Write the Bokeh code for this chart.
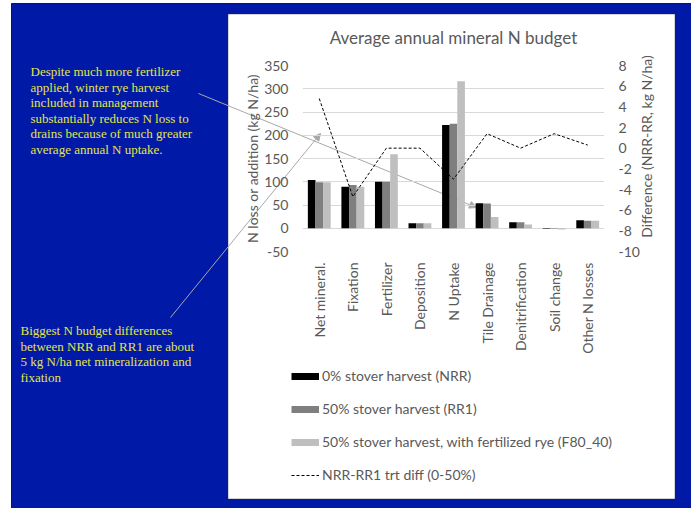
import math

from bokeh.core.properties import value
from bokeh.embed import file_html
from bokeh.models import (Arrow, ColumnDataSource, FactorRange, GridBox, Legend,
                          LegendItem, LinearAxis, NormalHead, PrintfTickFormatter,
                          Range1d, SingleIntervalTicker)
from bokeh.plotting import figure
from bokeh.resources import INLINE
from bokeh.transform import dodge

# ---- data -------------------------------------------------------------
categories = ["Net mineral.", "Fixation", "Fertilizer", "Deposition", "N Uptake",
              "Tile Drainage", "Denitrification", "Soil change", "Other N losses"]
nrr = [104, 89, 100, 11, 222, 54, 13, -1, 17]      # 0% stover harvest
rr1 = [99, 93, 100, 11, 225, 53, 13, -1, 16]       # 50% stover harvest
f80 = [99, 89, 159, 11, 316, 24, 8, -2.5, 16]      # 50% + fertilized rye
diff = [4.8, -4.7, 0.0, 0.0, -3.0, 1.4, 0.0, 1.4, 0.3]  # NRR-RR1

series_labels = ["0% stover harvest (NRR)",
                 "50% stover harvest (RR1)",
                 "50% stover harvest, with fertilized rye (F80_40)",
                 "NRR-RR1 trt diff (0-50%)"]

note_top = ["Despite much more fertilizer",
            "applied, winter rye harvest",
            "included in management",
            "substantially reduces N loss to",
            "drains because of much greater",
            "average annual N uptake."]
note_bottom = ["Biggest N budget differences",
               "between NRR and RR1 are about",
               "5 kg N/ha net mineralization and",
               "fixation"]

right_label = "Difference (NRR-RR, kg N/ha)"

# ---- styling ----------------------------------------------------------
SLIDE_BLUE = "#0019a6"
NOTE_YELLOW = "#e4e44a"
TEXT_GRAY = "#595959"
ARROW_GRAY = "#a8a8a8"
BAR_COLORS = ["#000000", "#7f7f7f", "#bfbfbf"]
FONT = "Lato"
W, H = 691, 508
NAN = float("nan")

# ---- slide layer: background, chart panel, notes, pointers, legend ------
slide = figure(width=W, height=H, x_range=Range1d(0, W), y_range=Range1d(H, 0),
               x_axis_type=None, y_axis_type=None, toolbar_location=None,
               output_backend="svg", min_border=0)
slide.outline_line_color = None
slide.border_fill_color = "white"
slide.background_fill_color = "white"

slide.quad(left=11, right=W, top=3, bottom=H, fill_color=SLIDE_BLUE,
           line_color="#0a1460", line_width=1)
slide.quad(left=228, right=674, top=14, bottom=498, fill_color="white",
           line_color="#d4d4d4", line_width=1)

slide.text(x=[30] * len(note_top), y=[71 + 15.6 * i for i in range(len(note_top))],
           text=note_top, text_font=value("Liberation Serif"),
           text_font_size="13px", text_color=NOTE_YELLOW, text_baseline="middle")
slide.text(x=[20] * len(note_bottom), y=[330 + 15.7 * i for i in range(len(note_bottom))],
           text=note_bottom, text_font=value("Liberation Serif"),
           text_font_size="13px", text_color=NOTE_YELLOW, text_baseline="middle")

# title of the secondary axis, reading upwards
slide.text(x=[646], y=[146], text=[right_label], angle=math.pi / 2,
           text_align="center", text_baseline="middle",
           text_font=value(FONT), text_font_size="14px", text_color=TEXT_GRAY)

slide.add_layout(Arrow(x_start=198, y_start=93, x_end=476, y_end=207,
                       line_color=ARROW_GRAY, line_width=1,
                       end=NormalHead(size=7, fill_color=ARROW_GRAY,
                                      line_color=ARROW_GRAY)))
slide.add_layout(Arrow(x_start=170, y_start=317, x_end=320, y_end=133,
                       line_color=ARROW_GRAY, line_width=1,
                       end=NormalHead(size=7, fill_color=ARROW_GRAY,
                                      line_color=ARROW_GRAY)))

# legend keys (single undefined point, so nothing is drawn on the slide):
# flat swatches for the bar series, dashed key for the line
keys = [slide.line(x=[NAN], y=[NAN], line_color=c, line_width=7, line_cap="butt")
        for c in BAR_COLORS]
keys.append(slide.line(x=[NAN], y=[NAN], line_color="black", line_dash="3 2",
                       line_width=1))
legend = Legend(items=[LegendItem(label=lab, renderers=[r])
                       for lab, r in zip(series_labels, keys)],
                location=(291, 25), orientation="vertical",
                padding=0, margin=0, spacing=16,
                glyph_width=28, glyph_height=16, label_height=16,
                label_standoff=3, border_line_color=None,
                background_fill_alpha=0,
                label_text_font=FONT, label_text_font_size="14px",
                label_text_color=TEXT_GRAY)
slide.add_layout(legend)

# ---- chart layer ------------------------------------------------------
p = figure(width=W, height=H,
           x_range=FactorRange(*categories, range_padding=0),
           y_range=Range1d(-50, 350),
           title="Average annual mineral N budget",
           output_backend="svg", toolbar_location=None,
           min_border_left=302, min_border_right=87,
           min_border_top=65, min_border_bottom=257)
p.outline_line_color = None
p.border_fill_alpha = 0
p.background_fill_alpha = 0

# the two layers keep their own frames
for fig in (slide, p):
    if "frame_align" in fig.properties():
        fig.frame_align = False

p.title.align = "center"
p.title.text_font = FONT
p.title.text_font_size = "17px"
p.title.text_font_style = "normal"
p.title.text_color = TEXT_GRAY
p.title.standoff = 36

left_ticker = SingleIntervalTicker(interval=50, num_minor_ticks=0)
p.yaxis.ticker = left_ticker
p.ygrid.ticker = left_ticker
p.ygrid.grid_line_color = "#d9d9d9"
p.xgrid.grid_line_color = None
p.yaxis[0].axis_label = "N loss or addition (kg N/ha)"

p.extra_y_ranges = {"diff": Range1d(-10, 8)}
right_axis = LinearAxis(y_range_name="diff",
                        ticker=SingleIntervalTicker(interval=2, num_minor_ticks=0))
p.add_layout(right_axis, "right")

for ax in p.yaxis:
    ax.formatter = PrintfTickFormatter(format="%d")

for ax in p.yaxis + p.xaxis:
    ax.axis_line_color = None
    ax.major_tick_line_color = None
    ax.minor_tick_line_color = None
    ax.major_tick_out = 0
    ax.major_tick_in = 0
    ax.minor_tick_out = 0
    ax.minor_tick_in = 0
    ax.major_label_text_font = FONT
    ax.major_label_text_font_size = "14px"
    ax.major_label_text_color = TEXT_GRAY
    ax.axis_label_text_font = FONT
    ax.axis_label_text_font_size = "14px"
    ax.axis_label_text_color = TEXT_GRAY
    ax.axis_label_text_font_style = "normal"
    ax.major_label_standoff = 14
    ax.axis_label_standoff = 0

p.xaxis.major_label_orientation = math.pi / 2
p.xaxis.major_label_standoff = 11

src = ColumnDataSource(dict(cat=categories, nrr=nrr, rr1=rr1, f80=f80, diff=diff))
bw = 0.227
for offset, col, color in zip((-bw, 0, bw), ("nrr", "rr1", "f80"), BAR_COLORS):
    p.vbar(x=dodge("cat", offset, range=p.x_range), top=col, width=bw,
           source=src, fill_color=color, line_color=None)
p.line("cat", "diff", source=src, y_range_name="diff",
       line_color="black", line_dash="3 2", line_width=1)

# both layers share one grid cell so the chart sits on top of the slide
page = GridBox(children=[(slide, 0, 0), (p, 0, 0)])

open("out.html", "w").write(file_html(page, INLINE))
